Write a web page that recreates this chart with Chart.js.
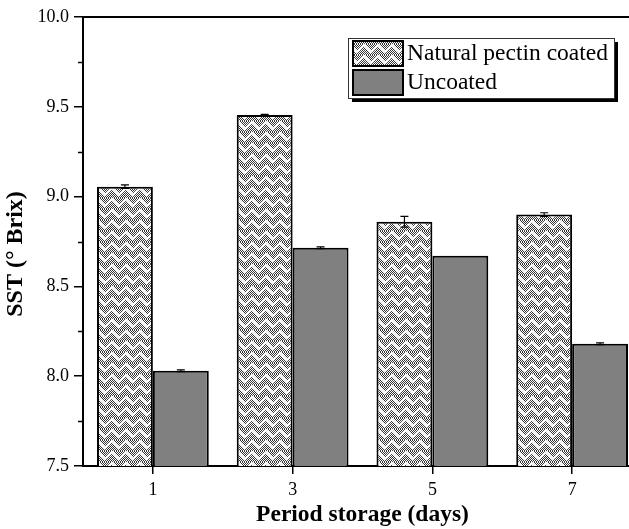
<!DOCTYPE html>
<html>
<head>
<meta charset="utf-8">
<script src="https://cdn.jsdelivr.net/npm/chart.js@4"></script>
<style>
    body { margin: 0; overflow: hidden; background: #fff; }
</style>
</head>
<body>
<canvas id="sstChart" width="645" height="529"></canvas>
<script>
const days = ['1', '3', '5', '7'];
const coatedValues = [9.055, 9.455, 8.86, 8.90];
const coatedErrors = [0.01, 0.003, 0.03, 0.01];
const uncoatedValues = [8.03, 8.715, 8.67, 8.18];
const uncoatedErrors = [0.005, 0.005, 0.0, 0.005];
const seriesNames = ['Natural pectin coated', 'Uncoated'];
const yTicks = [7.5, 8.0, 8.5, 9.0, 9.5, 10.0];
const yTitle = 'SST (° Brix)';

const SERIF = "'Liberation Serif', 'Times New Roman', serif";

// weave-like fill used for the coated bars
function makePattern() {
    const tile = document.createElement('canvas');
    tile.width = 14;
    tile.height = 11;
    const c = tile.getContext('2d');
    c.fillStyle = '#fff';
    c.fillRect(0, 0, 14, 11);
    c.fillStyle = '#333';
    for (let x = 0; x < 14; x++) {
        for (let y = 0; y < 11; y++) {
            if ((x + y) % 2 === 0) c.fillRect(x, y, 1, 1);
        }
    }
    c.strokeStyle = '#fff';
    c.lineWidth = 2.2;
    for (const dy of [-11, 0, 11]) {
        c.beginPath();
        c.moveTo(-1, dy);
        c.lineTo(7, dy + 8);
        c.lineTo(15, dy);
        c.stroke();
    }
    return document.getElementById('sstChart').getContext('2d').createPattern(tile, 'repeat');
}

const weave = makePattern();
const errorSets = [coatedErrors, uncoatedErrors];

const extrasPlugin = {
    id: 'extras',
    afterDatasetsDraw(chart) {
        const ctx = chart.ctx;
        const yScale = chart.scales.y;
        ctx.save();
        ctx.strokeStyle = '#000';
        ctx.lineWidth = 1.2;
        chart.data.datasets.forEach((ds, i) => {
            const meta = chart.getDatasetMeta(i);
            meta.data.forEach((bar, j) => {
                const err = errorSets[i][j];
                if (!err) return;
                const top = yScale.getPixelForValue(ds.data[j] + err);
                const bot = yScale.getPixelForValue(ds.data[j] - err);
                ctx.beginPath();
                ctx.moveTo(bar.x, top);
                ctx.lineTo(bar.x, bot);
                ctx.moveTo(bar.x - 4, top);
                ctx.lineTo(bar.x + 4, top);
                ctx.moveTo(bar.x - 4, bot);
                ctx.lineTo(bar.x + 4, bot);
                ctx.stroke();
            });
        });
        ctx.restore();
    },
    afterDraw(chart) {
        const ctx = chart.ctx;
        const area = chart.chartArea;
        const yScale = chart.scales.y;
        ctx.save();
        // top frame line
        ctx.strokeStyle = '#000';
        ctx.lineWidth = 2;
        ctx.beginPath();
        ctx.moveTo(area.left, area.top);
        ctx.lineTo(area.right, area.top);
        ctx.stroke();
        // minor ticks
        ctx.lineWidth = 1.5;
        for (let v = 7.75; v < 10; v += 0.5) {
            const y = Math.round(yScale.getPixelForValue(v)) + 0.5;
            ctx.beginPath();
            ctx.moveTo(area.left - 5, y);
            ctx.lineTo(area.left, y);
            ctx.stroke();
        }
        // y axis title
        ctx.save();
        ctx.translate(16, 254);
        ctx.rotate(-Math.PI / 2);
        ctx.font = 'bold 24px ' + SERIF;
        ctx.fillStyle = '#000';
        ctx.textAlign = 'center';
        ctx.textBaseline = 'middle';
        ctx.fillText(yTitle, 0, 0);
        ctx.restore();
        // legend with drop shadow
        const lx = 348, ly = 38, lw = 266, lh = 60;
        ctx.fillStyle = '#000';
        ctx.fillRect(lx + 4, ly + 4, lw, lh);
        ctx.fillStyle = '#fff';
        ctx.fillRect(lx, ly, lw, lh);
        ctx.lineWidth = 1;
        ctx.strokeStyle = '#333';
        ctx.strokeRect(lx + 0.5, ly + 0.5, lw, lh);
        ctx.font = '23.5px ' + SERIF;
        ctx.textBaseline = 'middle';
        chart.data.datasets.forEach((ds, i) => {
            const sy = 41 + i * 29;
            ctx.fillStyle = ds.backgroundColor;
            ctx.fillRect(353, sy, 50, 25);
            ctx.strokeStyle = '#000';
            ctx.lineWidth = 2;
            ctx.strokeRect(353, sy, 50, 25);
            ctx.fillStyle = '#000';
            ctx.fillText(ds.label, 407, sy + 13);
        });
        ctx.restore();
    }
};

new Chart(document.getElementById('sstChart'), {
    type: 'bar',
    data: {
        labels: days,
        datasets: [
            {
                label: seriesNames[0],
                data: coatedValues,
                backgroundColor: weave,
                borderColor: '#000',
                borderWidth: 2,
                borderSkipped: 'bottom'
            },
            {
                label: seriesNames[1],
                data: uncoatedValues,
                backgroundColor: '#808080',
                borderColor: '#000',
                borderWidth: 2,
                borderSkipped: 'bottom'
            }
        ]
    },
    options: {
        responsive: false,
        animation: false,
        layout: { padding: { top: 17, right: 3, left: 4, bottom: 0 } },
        plugins: {
            legend: { display: false },
            tooltip: { enabled: false }
        },
        datasets: {
            bar: { categoryPercentage: 0.8, barPercentage: 1.0 }
        },
        scales: {
            x: {
                grid: {
                    drawOnChartArea: false,
                    offset: false,
                    tickLength: 8,
                    tickColor: '#000',
                    lineWidth: 1.5
                },
                border: { color: '#000', width: 2 },
                ticks: {
                    color: '#000',
                    padding: 5,
                    font: { family: SERIF, size: 18 }
                },
                title: {
                    display: true,
                    text: 'Period storage (days)',
                    color: '#000',
                    padding: { top: 0, bottom: 0 },
                    font: { family: SERIF, size: 23.5, weight: 'bold' }
                },
                afterFit(scale) { scale.height = 63; }
            },
            y: {
                min: 7.5,
                max: 10,
                afterBuildTicks(scale) {
                    scale.ticks = yTicks.map(v => ({ value: v }));
                },
                grid: {
                    drawOnChartArea: false,
                    tickLength: 9,
                    tickColor: '#000',
                    lineWidth: 1.5
                },
                border: { color: '#000', width: 2 },
                ticks: {
                    color: '#000',
                    padding: 5,
                    font: { family: SERIF, size: 18 },
                    callback: v => Number(v).toFixed(1)
                },
                afterFit(scale) { scale.width = 79; }
            }
        }
    },
    plugins: [extrasPlugin]
});
</script>
</body>
</html>
